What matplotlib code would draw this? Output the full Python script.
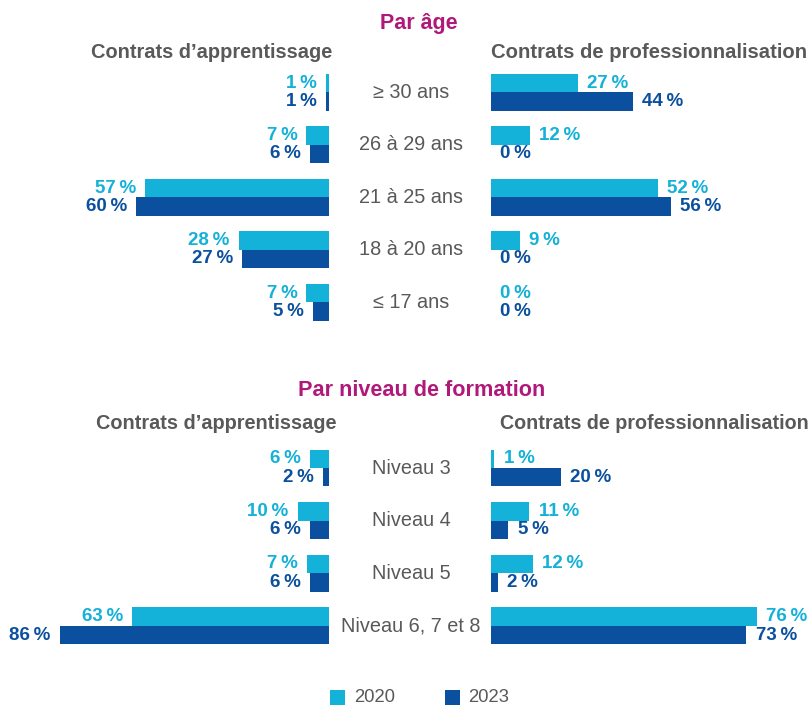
import matplotlib
matplotlib.use("Agg")
import matplotlib.pyplot as plt
from matplotlib.patches import Rectangle
import matplotlib.transforms as mtransforms
import numpy as np

plt.rcParams['font.family'] = ['Liberation Sans', 'DejaVu Sans']

# ---- data ----
age_categories = ["≥ 30 ans", "26 à 29 ans", "21 à 25 ans", "18 à 20 ans", "≤ 17 ans"]
age_appr_2020 = [1, 7, 57, 28, 7]
age_appr_2023 = [1, 6, 60, 27, 5]
age_pro_2020 = [27, 12, 52, 9, 0]
age_pro_2023 = [44, 0, 56, 0, 0]

level_categories = ["Niveau 3", "Niveau 4", "Niveau 5", "Niveau 6, 7 et 8"]
level_appr_2020 = [6, 10, 7, 63]
level_appr_2023 = [2, 6, 6, 86]
level_pro_2020 = [1, 11, 12, 76]
level_pro_2023 = [20, 5, 2, 73]

years = ["2020", "2023"]

C2020 = "#14B1D8"
C2023 = "#0B509E"
GRAY = "#595959"
MAGENTA = "#B0197A"

W, H = 812, 707
fig = plt.figure(figsize=(W / 100, H / 100), dpi=100)


def px_axes(x0, x1, y0, y1):
    return fig.add_axes([x0 / W, 1 - y1 / H, (x1 - x0) / W, (y1 - y0) / H])


def panel(ax, v2020, v2023, xmax, side):
    n = len(v2020)
    pos = np.arange(n)
    h = 0.35
    ax.barh(pos - h / 2, v2020, height=h, color=C2020, linewidth=0)
    ax.barh(pos + h / 2, v2023, height=h, color=C2023, linewidth=0)
    ax.set_ylim(n - 0.5, -0.5)
    if side == "left":
        ax.set_xlim(xmax, 0)
    else:
        ax.set_xlim(0, xmax)
    ax.axis("off")
    off = -6.5 if side == "left" else 6.5
    ha = "right" if side == "left" else "left"
    for vals, dy, col in ((v2020, -h / 2, C2020), (v2023, h / 2, C2023)):
        for i, v in enumerate(vals):
            ax.annotate(f"{v}\u2009%", (v, i + dy), xytext=(off, 0), textcoords="offset points",
                        ha=ha, va="center", color=col, fontsize=13.5, fontweight="bold")


# top panel: rows centered at 92.25 + 52.5 i
ax_tl = px_axes(0, 329, 66, 328.5)
panel(ax_tl, age_appr_2020, age_appr_2023, 329 / 3.22, "left")
ax_tr = px_axes(491, 812, 66, 328.5)
panel(ax_tr, age_pro_2020, age_pro_2023, 321 / 3.22, "right")

# bottom panel
ax_bl = px_axes(0, 329, 441.7, 652.1)
panel(ax_bl, level_appr_2020, level_appr_2023, 329 / 3.13, "left")
ax_br = px_axes(491, 812, 441.7, 652.1)
panel(ax_br, level_pro_2020, level_pro_2023, 321 / 3.5, "right")

# category labels
for ax, cats in ((ax_tl, age_categories), (ax_bl, level_categories)):
    tr = mtransforms.blended_transform_factory(fig.transFigure, ax.transData)
    for i, c in enumerate(cats):
        ax.text(411 / W, i, c, transform=tr, ha="center", va="center",
                fontsize=14.3, color=GRAY, clip_on=False)

# titles
fig.text(419 / W, 1 - 24 / H, "Par âge", ha="center", va="center",
         fontsize=15.5, fontweight="bold", color=MAGENTA)
fig.text(212 / W, 1 - 52 / H, "Contrats d’apprentissage", ha="center", va="center",
         fontsize=14.4, fontweight="bold", color=GRAY)
fig.text(649.5 / W, 1 - 52 / H, "Contrats de professionnalisation", ha="center", va="center",
         fontsize=14.6, fontweight="bold", color=GRAY)

fig.text(422 / W, 1 - 391 / H, "Par niveau de formation", ha="center", va="center",
         fontsize=15.6, fontweight="bold", color=MAGENTA)
fig.text(216.5 / W, 1 - 424 / H, "Contrats d’apprentissage", ha="center", va="center",
         fontsize=14.3, fontweight="bold", color=GRAY)
fig.text(654 / W, 1 - 424 / H, "Contrats de professionnalisation", ha="center", va="center",
         fontsize=14.2, fontweight="bold", color=GRAY)

# legend
for x_sq, x_txt, col, lab in ((330, 354, C2020, years[0]), (445, 468, C2023, years[1])):
    fig.add_artist(Rectangle((x_sq / W, 1 - 705 / H), 15 / W, 15 / H,
                             transform=fig.transFigure, color=col, lw=0))
    fig.text(x_txt / W, 1 - 697 / H, lab, ha="left", va="center", fontsize=13.3, color=GRAY)

fig.savefig("out.png", dpi=100)
